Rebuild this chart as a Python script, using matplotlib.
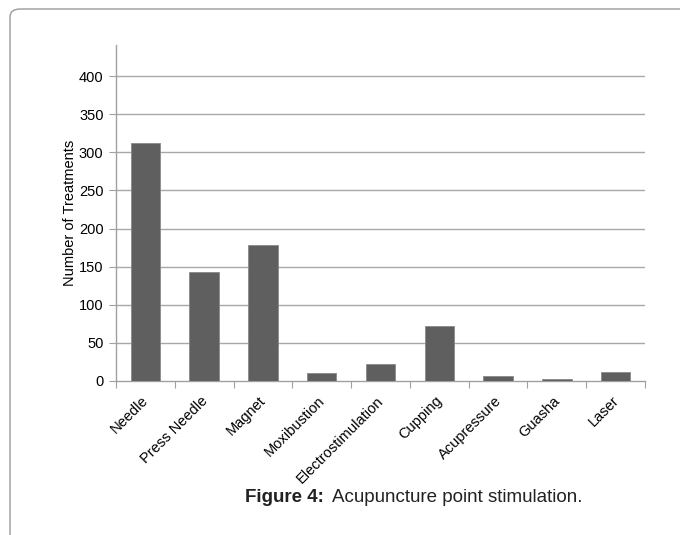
import matplotlib
matplotlib.use("Agg")
import matplotlib.pyplot as plt
import matplotlib.transforms as mtransforms
from matplotlib.patches import FancyBboxPatch

plt.rcParams['font.family'] = ['Liberation Sans', 'DejaVu Sans']

categories = ["Needle", "Press Needle", "Magnet", "Moxibustion", "Electrostimulation",
              "Cupping", "Acupressure", "Guasha", "Laser"]
values = [312, 143, 178, 10, 22, 72, 7, 2, 12]
yticks = [0, 50, 100, 150, 200, 250, 300, 350, 400]

W, H = 680, 535
fig = plt.figure(figsize=(6.8, 5.35), dpi=100)

# outer rounded frame
frame = FancyBboxPatch((10 / W, -0.1), 1.2, (535 - 9) / H + 0.1,
                       boxstyle="round,pad=0,rounding_size=0.015",
                       transform=fig.transFigure, fill=False,
                       edgecolor="#9a9a9a", linewidth=1.0)
fig.patches.append(frame)

ax = fig.add_axes([116 / W, 1 - 381 / H, (645 - 116) / W, (381 - 45) / H])
x = list(range(len(categories)))
ax.bar(x, values, width=0.5, color="#5f5f5f", edgecolor="#8a8a8a", linewidth=0.6, zorder=3)
ax.set_xlim(-0.5, len(categories) - 0.5)
ax.set_ylim(0, 440.7)

ax.set_yticks(yticks)
ax.set_yticklabels([str(v) for v in yticks], fontsize=10.5)
for v in yticks[1:]:
    ax.axhline(v, color="#a8a8a8", linewidth=1.0, zorder=1)

ax.set_xticks([i + 0.5 for i in range(-1, len(categories))], minor=False)
ax.set_xticklabels([])
ax.set_xticks(x, minor=True)
ax.set_xticklabels(categories, minor=True, rotation=45, ha="right",
                   rotation_mode="anchor", fontsize=10.5)
ax.tick_params(axis="x", which="minor", length=0, pad=9)
ax.tick_params(axis="x", which="major", length=5, color="#a0a0a0", direction="out")
ax.tick_params(axis="y", length=5, color="#a0a0a0", direction="out", pad=4)
shift = mtransforms.ScaledTranslation(-4 / 100, 0, fig.dpi_scale_trans)
for lab in ax.get_xticklabels(minor=True):
    lab.set_transform(lab.get_transform() + shift)

for s in ["top", "right"]:
    ax.spines[s].set_visible(False)
for s in ["left", "bottom"]:
    ax.spines[s].set_color("#a0a0a0")
    ax.spines[s].set_linewidth(1.0)

ax.set_ylabel("Number of Treatments", fontsize=10.5)
ax.yaxis.set_label_coords((77 - 116) / (645 - 116), 0.5)

# caption: bold part + regular part, placed side by side
ycap = 1 - 497 / H
t1 = fig.text(245 / W, ycap, "Figure 4:", ha="left", va="center",
              fontsize=13.5, fontweight="bold", color="#222222")
fig.canvas.draw()
bb = t1.get_window_extent()
fig.text((bb.x1 + 8) / W, ycap, "Acupuncture point stimulation.",
         ha="left", va="center", fontsize=13.5, color="#222222")

fig.savefig("out.png", dpi=100)
